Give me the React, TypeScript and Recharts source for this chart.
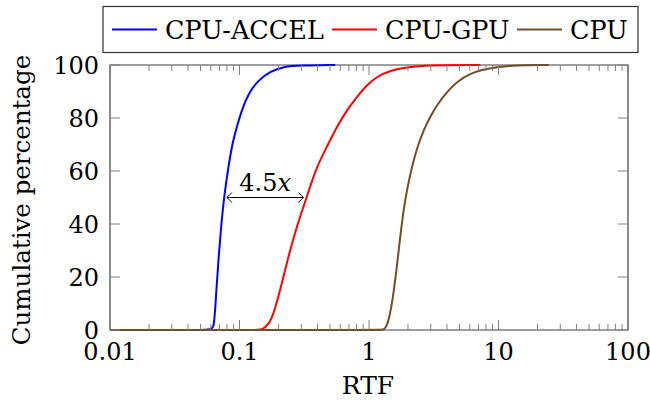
import React from 'react';
import { LineChart, Line, XAxis, YAxis, ReferenceArea, ReferenceLine } from 'recharts';

// (x is RTF on a log axis, y is cumulative %)
const accelRtf = [0.01, 0.06, 0.0635, 0.066, 0.0687, 0.0721, 0.076, 0.0821, 0.0881, 0.0953, 0.1042, 0.1172, 0.14, 0.172, 0.218, 0.3, 0.548];
const accelPct = [0, 0, 0, 13.8, 26.4, 39, 50.3, 61.6, 70.4, 76.7, 83, 89.3, 94.3, 97.5, 99.4, 99.8, 100];

const gpuRtf = [0.01, 0.14, 0.1487, 0.1724, 0.1884, 0.206, 0.225, 0.246, 0.277, 0.312, 0.351, 0.396, 0.473, 0.565, 0.675, 0.807, 0.964, 1.152, 1.459, 1.963, 2.8, 7.23];
const gpuPct = [0, 0, 0, 2.5, 8.2, 15.1, 22.6, 30.2, 39, 46.5, 54.1, 61.6, 69.2, 76.7, 83, 88, 92.5, 95.6, 97.9, 99.1, 99.9, 100];

const cpuRtf = [0.01, 1.24, 1.294, 1.374, 1.459, 1.546, 1.642, 1.742, 1.849, 1.963, 2.146, 2.346, 2.638, 2.972, 3.35, 4.0, 4.78, 6.05, 8.15, 12.3, 24.4];
const cpuPct = [0, 0, 0, 1.3, 6.3, 13.8, 23.9, 35.2, 45.3, 52.8, 61.6, 68.6, 75.5, 80.5, 84.9, 89.9, 93.7, 96.9, 98.7, 99.9, 100];

const majorX = [0.01, 0.1, 1, 10, 100];
const majorXLabels = ['0.01', '0.1', '1', '10', '100'];
const minorX = [
  0.02, 0.03, 0.04, 0.05, 0.06, 0.07, 0.08, 0.09,
  0.2, 0.3, 0.4, 0.5, 0.6, 0.7, 0.8, 0.9,
  2, 3, 4, 5, 6, 7, 8, 9,
  20, 30, 40, 50, 60, 70, 80, 90,
];
const yTicks = [0, 20, 40, 60, 80, 100];

const seriesNames = ['CPU-ACCEL', 'CPU-GPU', 'CPU'];
const seriesColors = ['#0000ff', '#ff0000', '#734d26'];

// speed-up annotation
const arrowFrom = 0.0798;
const arrowTo = 0.312;
const arrowLevel = 50;
const arrowLabel = '4.5';

const W = 650;
const H = 400;
const PLOT_TOP = 65;
const PLOT_LEFT = 110;
const PLOT_RIGHT = 628;
const TICK_COLOR = '#808080';
// Liberation Serif isn't picked up in the sandbox, DejaVu Serif is
const SERIF = 'DejaVu Serif';
const tickText = { fontFamily: SERIF, fontSize: 24, fill: '#000' };

const toPoints = (xs: number[], ys: number[]) => xs.map((v, i) => ({ rtf: v, pct: ys[i] }));

const XTick = (props: any) => {
  const { x, y, payload } = props;
  const idx = majorX.indexOf(payload.value);
  const len = idx >= 0 ? 10 : 6;
  return (
    <g>
      <line x1={x} x2={x} y1={y} y2={y - len} stroke={TICK_COLOR} strokeWidth={1} />
      <line x1={x} x2={x} y1={PLOT_TOP} y2={PLOT_TOP + len} stroke={TICK_COLOR} strokeWidth={1} />
      {idx >= 0 && (
        <text x={x} y={y + 30} textAnchor="middle" style={tickText}>
          {majorXLabels[idx]}
        </text>
      )}
    </g>
  );
};

const YTick = (props: any) => {
  const { x, y, payload } = props;
  return (
    <g>
      <line x1={PLOT_LEFT} x2={PLOT_LEFT + 10} y1={y} y2={y} stroke={TICK_COLOR} strokeWidth={1} />
      <line x1={PLOT_RIGHT} x2={PLOT_RIGHT - 10} y1={y} y2={y} stroke={TICK_COLOR} strokeWidth={1} />
      <text x={x - 11} y={y + 8.5} textAnchor="end" style={tickText}>
        {payload.value}
      </text>
    </g>
  );
};

const ArrowShape = (props: any) => {
  const { x1, y1, x2, y2 } = props;
  const head = (tx: number, ty: number, dir: number) =>
    `M ${tx - dir * 5} ${ty - 5} Q ${tx - dir * 1.5} ${ty - 1} ${tx} ${ty} Q ${tx - dir * 1.5} ${ty + 1} ${tx - dir * 5} ${ty + 5}`;
  return (
    <g>
      <line x1={x1} y1={y1} x2={x2} y2={y2} stroke="#000" strokeWidth={1} />
      <path d={head(x1, y1, -1)} fill="none" stroke="#000" strokeWidth={1} />
      <path d={head(x2, y2, 1)} fill="none" stroke="#000" strokeWidth={1} />
      <text x={(x1 + x2) / 2} y={y1 - 7} textAnchor="middle" style={tickText}>
        {arrowLabel}
        <tspan style={{ fontStyle: 'italic' }}>x</tspan>
      </text>
    </g>
  );
};

const Legend = () => {
  const lineStarts = [112, 332, 517];
  const textStarts = [165, 385, 570];
  return (
    <svg width={W} height={60} style={{ position: 'absolute', left: 0, top: 0 }}>
      <rect x={103} y={6.5} width={535} height={46} fill="#fff" stroke="#333" strokeWidth={1.2} />
      {seriesNames.map((name, i) => (
        <g key={name}>
          <line x1={lineStarts[i]} x2={lineStarts[i] + 45} y1={29.5} y2={29.5} stroke={seriesColors[i]} strokeWidth={2} />
          <text x={textStarts[i]} y={38.5} style={{ fontFamily: SERIF, fontSize: 25.5, fill: '#000' }}>
            {name}
          </text>
        </g>
      ))}
    </svg>
  );
};

export default function App() {
  const series = [toPoints(accelRtf, accelPct), toPoints(gpuRtf, gpuPct), toPoints(cpuRtf, cpuPct)];
  return (
    <div style={{ position: 'absolute', left: 0, top: 0, width: W, height: H, background: '#fff' }}>
      <LineChart width={W} height={H} margin={{ top: PLOT_TOP, right: W - PLOT_RIGHT, bottom: 0, left: 0 }}>
        <XAxis
          dataKey="rtf"
          type="number"
          scale="log"
          domain={[0.01, 100]}
          allowDataOverflow
          ticks={[...majorX, ...minorX]}
          interval={0}
          height={70}
          tickSize={0}
          tickMargin={0}
          tickLine={false}
          axisLine={false}
          tick={<XTick />}
          label={() => (
            <text x={368} y={394} textAnchor="middle" style={{ fontFamily: SERIF, fontSize: 25, fill: '#000' }}>
              RTF
            </text>
          )}
        />
        <YAxis
          type="number"
          domain={[0, 100]}
          ticks={yTicks}
          interval={0}
          width={PLOT_LEFT}
          tickSize={0}
          tickMargin={0}
          tickLine={false}
          axisLine={false}
          tick={<YTick />}
          label={() => (
            <text
              x={0}
              y={0}
              transform={`translate(30, 200) rotate(-90)`}
              textAnchor="middle"
              style={{ fontFamily: SERIF, fontSize: 24.5, fill: '#000' }}
            >
              Cumulative percentage
            </text>
          )}
        />
        <ReferenceArea x1={0.01} x2={100} y1={0} y2={100} fill="none" stroke="#404040" strokeWidth={1.2} ifOverflow="visible" />
        {series.map((pts, i) => (
          <Line
            key={seriesNames[i]}
            data={pts}
            dataKey="pct"
            name={seriesNames[i]}
            type="basis"
            stroke={seriesColors[i]}
            strokeWidth={2}
            dot={false}
            isAnimationActive={false}
          />
        ))}
        <ReferenceLine
          segment={[
            { x: arrowFrom, y: arrowLevel },
            { x: arrowTo, y: arrowLevel },
          ]}
          shape={ArrowShape}
          ifOverflow="visible"
        />
      </LineChart>
      <Legend />
    </div>
  );
}
